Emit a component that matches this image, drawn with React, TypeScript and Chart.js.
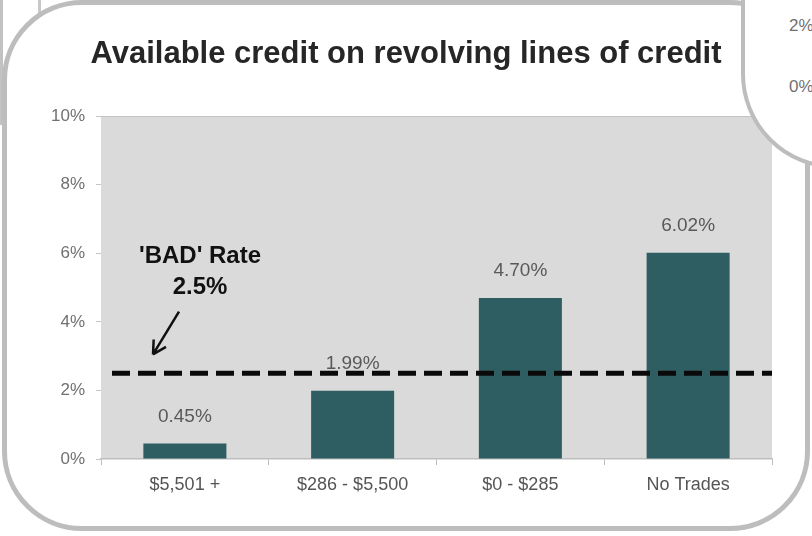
import React, { useEffect, useRef } from "react";
import { Chart, registerables } from "chart.js";

Chart.register(...registerables);

const TITLE = "Available credit on revolving lines of credit";
const categories = ["$5,501 +", "$286 - $5,500", "$0 - $285", "No Trades"];
const badRates = [0.45, 1.99, 4.7, 6.02];
const Y_MIN = 0;
const Y_MAX = 10;
const Y_STEP = 2;
const BAD_RATE = 2.5;
const badRateLabel = ["'BAD' Rate", "2.5%"];
const sidePanelTicks = ["2%", "0%"];

const FONT = "'Liberation Sans', Arial, sans-serif";

const plotBackground = {
  id: "plotBackground",
  beforeDraw(chart: any) {
    const { ctx, chartArea } = chart;
    ctx.save();
    ctx.fillStyle = "#dadada";
    ctx.fillRect(chartArea.left, chartArea.top, chartArea.right - chartArea.left, chartArea.bottom - chartArea.top);
    ctx.restore();
  },
};

const valueLabels = {
  id: "valueLabels",
  afterDatasetsDraw(chart: any) {
    const { ctx } = chart;
    const meta = chart.getDatasetMeta(0);
    ctx.save();
    ctx.font = `19px ${FONT}`;
    ctx.fillStyle = "#595959";
    ctx.textAlign = "center";
    ctx.textBaseline = "middle";
    meta.data.forEach((bar: any, i: number) => {
      ctx.fillText(badRates[i].toFixed(2) + "%", bar.x, bar.y - 27);
    });
    ctx.restore();
  },
};

const badRateLine = {
  id: "badRateLine",
  afterDraw(chart: any) {
    const { ctx, chartArea, scales } = chart;
    const y = scales.y.getPixelForValue(BAD_RATE);
    ctx.save();
    ctx.strokeStyle = "#0a0a0a";
    ctx.lineWidth = 5;
    ctx.setLineDash([18, 8]);
    ctx.beginPath();
    ctx.moveTo(chartArea.left + 11, y);
    ctx.lineTo(chartArea.right, y);
    ctx.stroke();
    ctx.setLineDash([]);

    // annotation text
    const cx = chartArea.left + 99;
    ctx.fillStyle = "#111";
    ctx.font = `bold 24px ${FONT}`;
    ctx.textAlign = "center";
    ctx.textBaseline = "middle";
    ctx.fillText(badRateLabel[0], cx, scales.y.getPixelForValue(5.9));
    ctx.fillText(badRateLabel[1], cx, scales.y.getPixelForValue(5.0));

    // arrow
    const x1 = chartArea.left + 78;
    const y1 = scales.y.getPixelForValue(4.3);
    const x2 = chartArea.left + 52;
    const y2 = scales.y.getPixelForValue(3.05);
    ctx.strokeStyle = "#111";
    ctx.lineWidth = 2.5;
    ctx.beginPath();
    ctx.moveTo(x1, y1);
    ctx.lineTo(x2, y2);
    const ang = Math.atan2(y2 - y1, x2 - x1);
    const hl = 15;
    ctx.moveTo(x2, y2);
    ctx.lineTo(x2 - hl * Math.cos(ang - 0.5), y2 - hl * Math.sin(ang - 0.5));
    ctx.moveTo(x2, y2);
    ctx.lineTo(x2 - hl * Math.cos(ang + 0.5), y2 - hl * Math.sin(ang + 0.5));
    ctx.stroke();
    ctx.restore();
  },
};

export default function App() {
  const ref = useRef<HTMLCanvasElement | null>(null);

  useEffect(() => {
    if (!ref.current) return;
    const chart = new Chart(ref.current, {
      type: "bar",
      data: {
        labels: categories,
        datasets: [
          {
            data: badRates,
            backgroundColor: "#2f5e62",
            borderWidth: 0,
            categoryPercentage: 1,
            barPercentage: 0.495,
          },
        ],
      },
      options: {
        responsive: false,
        animation: false,
        layout: { padding: { left: 40, right: 40, top: 0, bottom: 0 } },
        plugins: {
          legend: { display: false },
          tooltip: { enabled: false },
          title: {
            display: true,
            text: TITLE,
            color: "#262626",
            font: { family: FONT, size: 31, weight: "bold" },
            padding: { top: 36, bottom: 43 },
          },
        },
        scales: {
          x: {
            afterFit(scale: any) {
              scale.height = 77;
            },
            grid: {
              offset: true,
              drawOnChartArea: false,
              drawTicks: true,
              tickLength: 6,
              tickColor: "#bdbdbd",
            },
            border: { display: true, color: "#bdbdbd", width: 1.5 },
            ticks: {
              color: "#555555",
              font: { family: FONT, size: 18 },
              padding: 9,
            },
          },
          y: {
            min: Y_MIN,
            max: Y_MAX,
            afterFit(scale: any) {
              scale.width = 61;
            },
            grid: {
              drawOnChartArea: true,
              drawTicks: true,
              tickLength: 5,
              color: (c: any) => (c.tick && c.tick.value === Y_MAX ? "#c4c4c4" : "rgba(0,0,0,0)"),
              tickColor: "#c4c4c4",
            },
            border: { display: false },
            ticks: {
              stepSize: Y_STEP,
              color: "#707070",
              font: { family: FONT, size: 17 },
              padding: 11,
              callback: (v: any) => v + "%",
            },
          },
        },
      },
      plugins: [plotBackground, valueLabels, badRateLine],
    });
    return () => chart.destroy();
  }, []);

  return (
    <div
      style={{
        position: "fixed",
        left: 0,
        top: 0,
        width: 812,
        height: 536,
        overflow: "hidden",
        background: "#ffffff",
        fontFamily: FONT,
      }}
    >
      <div style={{ position: "absolute", left: 0, top: 0, width: 3, height: 125, background: "#c2c2c2" }} />
      <div style={{ position: "absolute", left: 38, top: 0, width: 3, height: 14, background: "#c8c8c8" }} />
      <div
        style={{
          position: "absolute",
          left: 2,
          top: 0,
          width: 808,
          height: 531,
          boxSizing: "border-box",
          border: "5px solid #bdbdbd",
          borderRadius: 80,
        }}
      />
      <canvas ref={ref} width={812} height={536} style={{ position: "absolute", left: 0, top: 0 }} />
      <div
        style={{
          position: "absolute",
          left: 741,
          top: -200,
          width: 300,
          height: 369,
          boxSizing: "border-box",
          border: "4px solid #bdbdbd",
          borderRadius: 95,
          background: "#ffffff",
        }}
      />
      <div style={{ position: "absolute", left: 789, top: 16, fontSize: 17, color: "#707070", lineHeight: "20px" }}>
        {sidePanelTicks[0]}
      </div>
      <div style={{ position: "absolute", left: 789, top: 77, fontSize: 17, color: "#707070", lineHeight: "20px" }}>
        {sidePanelTicks[1]}
      </div>
    </div>
  );
}
